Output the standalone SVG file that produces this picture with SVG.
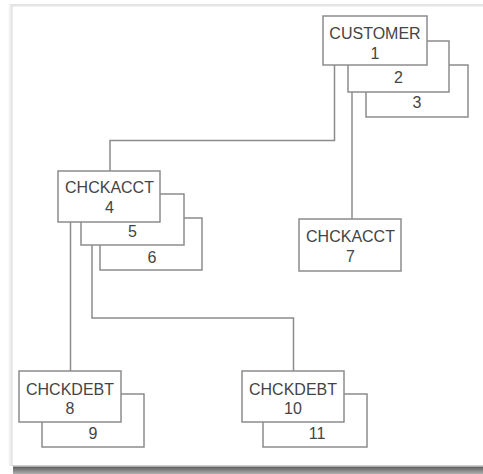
<svg xmlns="http://www.w3.org/2000/svg" width="483" height="474" viewBox="0 0 483 474">
<defs>
<linearGradient id="sh" x1="0" y1="0" x2="0" y2="1">
<stop offset="0" stop-color="#5a5a5a"/>
<stop offset="1" stop-color="#b0b0b0"/>
</linearGradient>
<linearGradient id="lf" x1="0" y1="0" x2="1" y2="0">
<stop offset="0" stop-color="#ffffff"/>
<stop offset="1" stop-color="#dcdcdc"/>
</linearGradient>
</defs>
<style>
.b{fill:#fff;stroke:#8c8c8c;stroke-width:1.5}
.t{font-family:"Liberation Sans",Arial,sans-serif;font-size:16px;fill:#444;text-anchor:middle}
.c{fill:none;stroke:#8c8c8c;stroke-width:1.5}
</style>
<rect x="0" y="0" width="483" height="474" fill="#fff"/>
<rect x="10" y="4" width="473" height="2.5" fill="#e4e4e4"/>
<rect x="8" y="4" width="4.5" height="462" fill="url(#lf)"/>
<rect x="12" y="465" width="471" height="1" fill="#d0d0d0"/>
<rect x="13" y="466.5" width="470" height="7.5" fill="url(#sh)"/>
<g id="connectors">
<polyline class="c" points="334.5,65 334.5,140.5 110,140.5 110,171"/>
<line class="c" x1="352" y1="92" x2="352" y2="219"/>
<line class="c" x1="70.5" y1="222" x2="70.5" y2="371"/>
<polyline class="c" points="92,245 92,318 293.5,318 293.5,371"/>
</g>
<g id="customer">
<rect class="b" x="366" y="65" width="102" height="52"/>
<text class="t" x="417" y="108">3</text>
<rect class="b" x="348" y="41" width="101" height="51"/>
<text class="t" x="398.5" y="83">2</text>
<rect class="b" x="323" y="16" width="104" height="49"/>
<text class="t" x="375" y="39">CUSTOMER</text>
<text class="t" x="375" y="59">1</text>
</g>
<g id="chckacct4">
<rect class="b" x="100" y="218" width="102" height="52"/>
<text class="t" x="152" y="263">6</text>
<rect class="b" x="81" y="194" width="103" height="51"/>
<text class="t" x="132.5" y="237">5</text>
<rect class="b" x="58" y="171" width="102" height="51"/>
<text class="t" x="109.5" y="193">CHCKACCT</text>
<text class="t" x="109.5" y="213">4</text>
</g>
<g id="chckacct7">
<rect class="b" x="299" y="219" width="102" height="52"/>
<text class="t" x="350.5" y="242">CHCKACCT</text>
<text class="t" x="350.5" y="262">7</text>
</g>
<g id="chckdebt8">
<rect class="b" x="42" y="394" width="102" height="53"/>
<text class="t" x="93" y="439">9</text>
<rect class="b" x="19" y="371" width="102" height="51"/>
<text class="t" x="70" y="395">CHCKDEBT</text>
<text class="t" x="70" y="414">8</text>
</g>
<g id="chckdebt10">
<rect class="b" x="263" y="394" width="104" height="53"/>
<text class="t" x="317" y="439">11</text>
<rect class="b" x="242" y="371" width="102" height="51"/>
<text class="t" x="293" y="395">CHCKDEBT</text>
<text class="t" x="293" y="414">10</text>
</g>
</svg>
